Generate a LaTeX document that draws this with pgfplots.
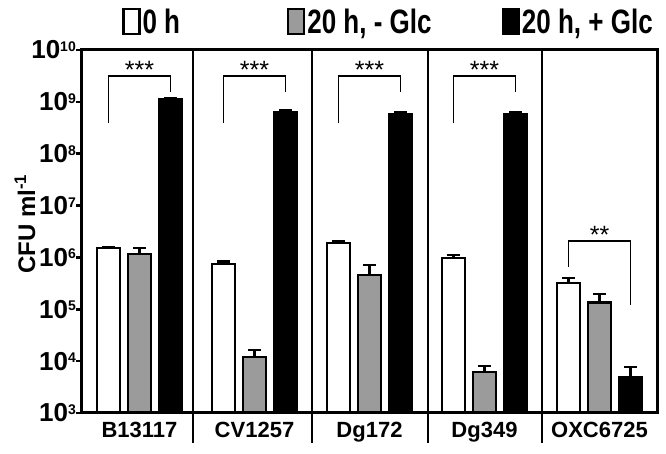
\documentclass[border=0pt]{standalone}
\usepackage{fontspec}
\setmainfont{Liberation Sans}
\usepackage{pgfplots}
\pgfplotsset{compat=1.18}
\definecolor{bargray}{RGB}{155,155,155}
\newcommand{\tl}[1]{10\raisebox{7.5pt}{\fontsize{14}{14}\selectfont #1}}
\newcommand{\lgd}[1]{\scalebox{1}[1.3]{#1}}
\begin{document}
\begin{tikzpicture}
\path[use as bounding box] (-82pt,-41pt) rectangle (584pt,413pt);
\begin{axis}[
  at={(0pt,0pt)}, anchor=south west,
  scale only axis, width=575pt, height=363pt,
  xmin=-0.5, xmax=4.5, ymode=log, ymin=1e3, ymax=1e10,
  log origin y=infty,
  clip=false,
  axis on top,
  axis line style={line width=3pt},
  xtick={0,1,2,3,4}, xticklabels={B13117,CV1257,Dg172,Dg349,OXC6725},
  x tick style={draw=none},
  ytick={1e3,1e4,1e5,1e6,1e7,1e8,1e9,1e10},
  yticklabels={\tl{3},\tl{4},\tl{5},\tl{6},\tl{7},\tl{8},\tl{9},\tl{10}},
  yminorticks=false,
  ytick pos=left,
  y tick style={line width=2.5pt, black},
  tick align=outside, major tick length=6pt,
  xticklabel style={font=\fontsize{22}{22}\selectfont\bfseries},
  yticklabel style={font=\fontsize{26}{26}\selectfont\bfseries, inner sep=0pt},
  legend columns=3,
  legend style={draw=none, fill=none, at={(axis description cs:0.533,1.078)}, anchor=center,
    font=\fontsize{26}{26}\selectfont\bfseries,
    /tikz/column 2/.style={column sep=105pt}, /tikz/column 4/.style={column sep=68pt}},
  error bars/y dir=plus, error bars/y explicit,
  error bars/error bar style={line width=2.3pt, black},
  error bars/error mark options={rotate=90, line width=2.3pt, mark size=6.5pt, black},
]
\addplot[ybar, bar width=23pt, bar shift=0pt, fill=white, draw=black, line width=2.3pt,
  legend image code/.code={\draw[fill=white, draw=black, line width=2.3pt] (0pt,-12.5pt) rectangle (16pt,12.5pt);}]
  coordinates {(-0.27,1.5e6) +- (0,0.05e6) (0.73,7.4e5) +- (0,0.9e5) (1.73,1.87e6) +- (0,0.23e6)
               (2.73,9.6e5) +- (0,1.5e5) (3.73,3.26e5) +- (0,0.7e5)};
\addlegendentry{\lgd{0 h}}
\addplot[ybar, bar width=23pt, bar shift=0pt, fill=bargray, draw=black, line width=2.3pt,
  legend image code/.code={\draw[fill=bargray, draw=black, line width=2.3pt] (0pt,-12.5pt) rectangle (16pt,12.5pt);}]
  coordinates {(0,1.17e6) +- (0,0.33e6) (1,1.22e4) +- (0,0.42e4) (2,4.6e5) +- (0,2.5e5)
               (3,6.1e3) +- (0,2.0e3) (4,1.36e5) +- (0,0.61e5)};
\addlegendentry{\lgd{20 h, - Glc}}
\addplot[ybar, bar width=23pt, bar shift=0pt, fill=black, draw=black, line width=2.3pt,
  legend image code/.code={\draw[fill=black, draw=black, line width=2.3pt] (0pt,-12.5pt) rectangle (16pt,12.5pt);}]
  coordinates {(0.27,1.12e9) +- (0,0.06e9) (1.27,6.2e8) +- (0,0.6e8) (2.27,5.7e8) +- (0,0.5e8)
               (3.27,5.8e8) +- (0,0.4e8) (4.27,4.9e3) +- (0,2.9e3)};
\addlegendentry{\lgd{20 h, + Glc}}
% group separators
\addplot[black, line width=2pt, forget plot] coordinates {(0.465,1e10) (0.465,263)};
\addplot[black, line width=2pt, forget plot] coordinates {(1.5,1e10) (1.5,263)};
\addplot[black, line width=2pt, forget plot] coordinates {(2.51,1e10) (2.51,263)};
\addplot[black, line width=2pt, forget plot] coordinates {(3.5,1e10) (3.5,263)};
% significance brackets
\addplot[black, line width=1.5pt, forget plot] coordinates {(-0.27,3.9e8) (-0.27,3.15e9) (0.27,3.15e9) (0.27,1.55e9)};
\addplot[black, line width=1.5pt, forget plot] coordinates {(0.73,3.9e8) (0.73,3.15e9) (1.27,3.15e9) (1.27,1.55e9)};
\addplot[black, line width=1.5pt, forget plot] coordinates {(1.73,3.9e8) (1.73,3.15e9) (2.27,3.15e9) (2.27,1.55e9)};
\addplot[black, line width=1.5pt, forget plot] coordinates {(2.73,3.9e8) (2.73,3.15e9) (3.27,3.15e9) (3.27,1.55e9)};
\addplot[black, line width=1.5pt, forget plot] coordinates {(3.73,6.6e5) (3.73,2.07e6) (4.27,2.07e6) (4.27,1.21e5)};
\node[font=\fontsize{25}{25}\selectfont, anchor=base, yshift=-2pt] at (axis cs:0,3.15e9) {***};
\node[font=\fontsize{25}{25}\selectfont, anchor=base, yshift=-2pt] at (axis cs:1,3.15e9) {***};
\node[font=\fontsize{25}{25}\selectfont, anchor=base, yshift=-2pt] at (axis cs:2,3.15e9) {***};
\node[font=\fontsize{25}{25}\selectfont, anchor=base, yshift=-2pt] at (axis cs:3,3.15e9) {***};
\node[font=\fontsize{25}{25}\selectfont, anchor=base, yshift=-2pt] at (axis cs:4,2.07e6) {**};
\node[rotate=90, anchor=center, font=\fontsize{24}{24}\selectfont\bfseries] at (rel axis cs:-0.099,0.52) {CFU ml\textsuperscript{-1}};
\end{axis}
\end{tikzpicture}
\end{document}
